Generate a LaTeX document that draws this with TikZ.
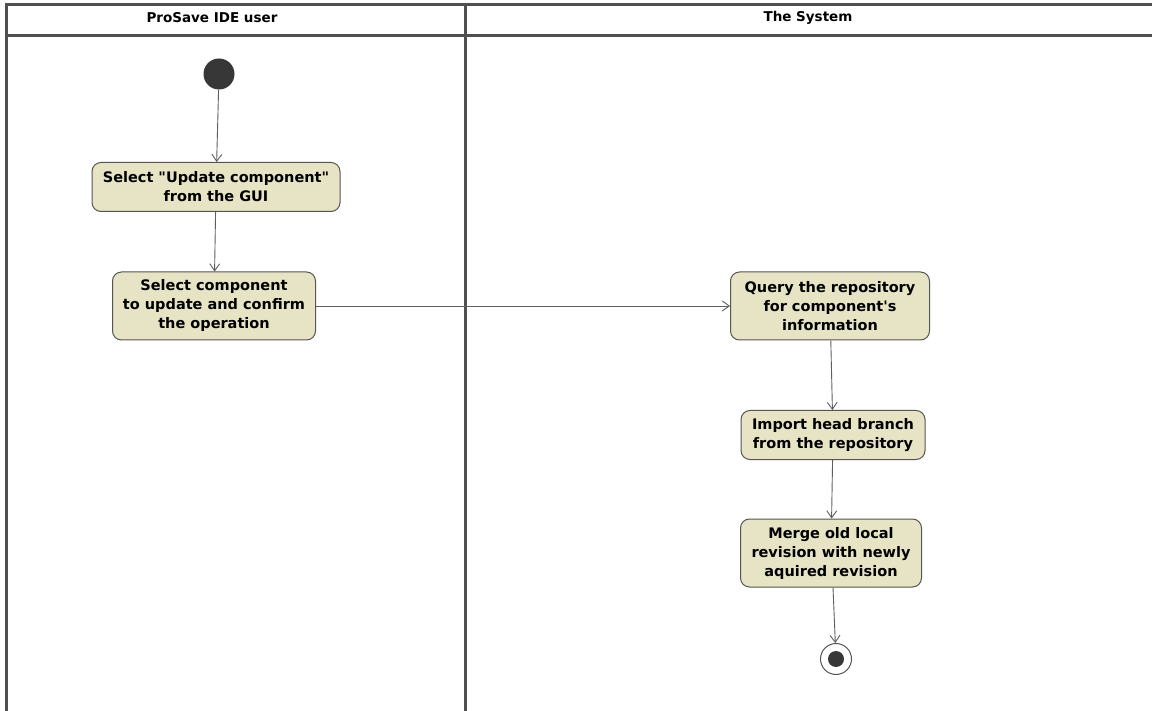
\documentclass[tikz,border=0pt]{standalone}
\usepackage{fontspec}
\setmainfont[Ligatures=TeXOff]{DejaVu Sans}
\usetikzlibrary{arrows.meta}
\definecolor{actfill}{RGB}{230,228,196}
\definecolor{actdraw}{RGB}{85,85,85}
\definecolor{lanegray}{RGB}{80,80,80}
\definecolor{flowgray}{RGB}{95,95,95}
\definecolor{dotgray}{RGB}{55,55,55}
\tikzset{
  lane/.style={draw=lanegray, line width=3pt},
  action/.style={draw=actdraw, line width=1pt, fill=actfill, rounded corners=9pt,
    align=center, inner sep=2pt, font=\fontsize{14.5}{19}\selectfont\bfseries},
  flow/.style={draw=flowgray, line width=0.9pt, -{Straight Barb[length=7pt,width=10pt]}},
  lanetitle/.style={font=\fontsize{13.5}{16}\selectfont\bfseries}
}
\begin{document}
\begin{tikzpicture}[x=1pt,y=-1pt]
\useasboundingbox (0,0) rectangle (1152,711);
\fill[white] (0,0) rectangle (1152,711);
% swimlane frame
\draw[lane] (6,711) -- (6,5) -- (1152,5);
\draw[lane] (6,36) -- (1152,36);
\draw[lane] (465,5) -- (465,711);
\node[lanetitle] (t1) at (212,18) {ProSave IDE user};
\node[lanetitle] (t2) at (808,18) {The System};
% initial node
\node[circle, fill=dotgray, minimum size=31pt, inner sep=0pt] (start) at (219,74) {};
% actions
\node[action, minimum width=248pt, minimum height=49pt] (a1) at (216,187)
  {Select "Update component"\\from the GUI};
\node[action, minimum width=203pt, minimum height=68pt] (a2) at (214,306)
  {Select component\\to update and confirm\\the operation};
\node[action, minimum width=199pt, minimum height=68pt] (a3) at (830,306)
  {Query the repository\\for component's\\information};
\node[action, minimum width=184pt, minimum height=49pt] (a4) at (833,435)
  {Import head branch\\from the repository};
\node[action, minimum width=181pt, minimum height=68pt] (a5) at (831,553)
  {Merge old local\\revision with newly\\aquired revision};
% final node
\node[circle, draw=actdraw, line width=1pt, fill=white, minimum size=31pt, inner sep=0pt] (end) at (836,659) {};
\node[circle, fill=dotgray, minimum size=16pt, inner sep=0pt] (endin) at (836,659) {};
% control flows
\draw[flow] (start) -- (a1);
\draw[flow] (a1) -- (a2);
\draw[flow] (a2) -- (a3);
\draw[flow] (a3) -- (a4);
\draw[flow] (a4) -- (a5);
\draw[flow] (a5.south -| 833,0) -- (end);
\end{tikzpicture}
\end{document}
